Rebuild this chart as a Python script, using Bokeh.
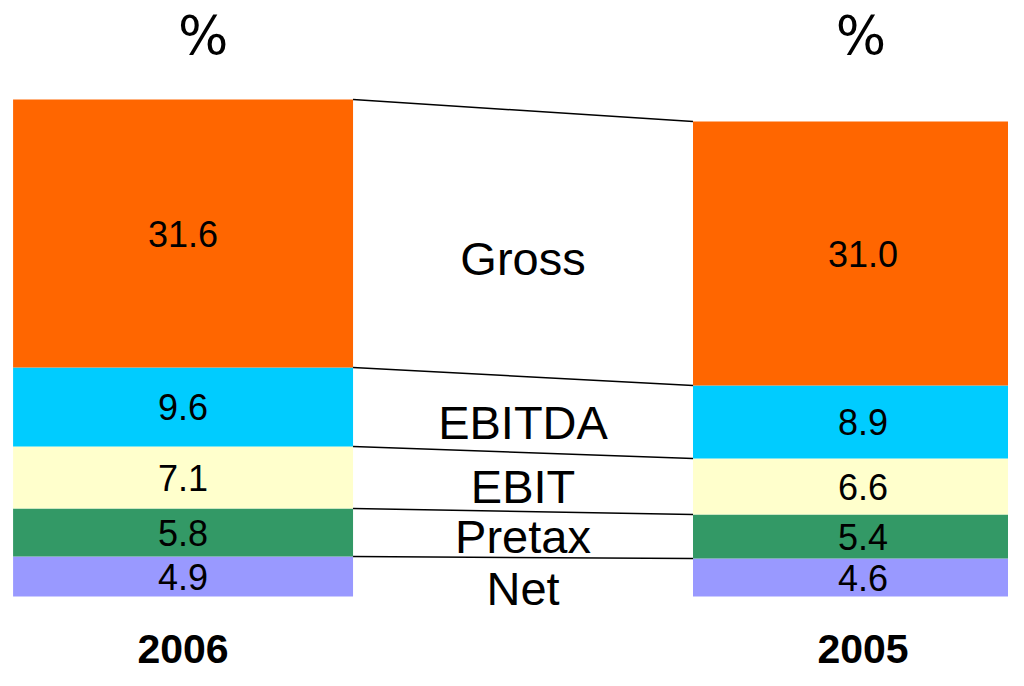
from bokeh.plotting import figure
from bokeh.models import ColumnDataSource, Range1d
from bokeh.embed import file_html
from bokeh.resources import INLINE
from bokeh.core.properties import value

# ---- data -------------------------------------------------------------
years = ["2006", "2005"]
measures = ["Net", "Pretax", "EBIT", "EBITDA", "Gross"]
margins_2006 = [4.9, 5.8, 7.1, 9.6, 31.6]
margins_2005 = [4.6, 5.4, 6.6, 8.9, 31.0]
# top edge of each band as drawn in the picture (chart units above the base)
drawn_top_2006 = [40, 88, 150, 229, 497]
drawn_top_2005 = [38, 82, 138, 211, 475]
colors = ["#9999FF", "#339966", "#FFFFCC", "#00CCFF", "#FF6600"]

# ---- figure -----------------------------------------------------------
p = figure(width=1008, height=670, x_range=Range1d(-0.537, 2.428),
           y_range=Range1d(-74, 596), output_backend="svg",
           toolbar_location=None, min_border=0)
p.outline_line_color = None
p.axis.visible = False
p.grid.visible = False
p.background_fill_color = "white"

year_x = [0, 2]
series = [(margins_2006, drawn_top_2006), (margins_2005, drawn_top_2005)]

for xi, (vals, tops) in zip(year_x, series):
    bottoms = [0] + tops[:-1]
    src = ColumnDataSource(dict(
        x=[xi] * len(vals), top=tops, bottom=bottoms, color=colors,
        mid=[(a + b) / 2 for a, b in zip(tops, bottoms)],
        label=[f"{v:.1f}" for v in vals]))
    p.vbar(x="x", width=1.0, bottom="bottom", top="top", fill_color="color",
           line_color=None, source=src)
    p.text(x="x", y="mid", text="label", source=src,
           text_font=value("Liberation Sans"), text_font_size="36px",
           text_align="center", text_baseline="middle", text_color="black")

# connector lines between the band edges
p.segment(x0=[0.5] * len(measures), y0=drawn_top_2006,
          x1=[1.5] * len(measures), y1=drawn_top_2005,
          line_color="black", line_width=1.5)

# measure names in the middle
bot05 = [0] + drawn_top_2005[:-1]
mid05 = [(a + b) / 2 for a, b in zip(drawn_top_2005, bot05)]
name_offsets = [11, 0, 0, 0, 5]
p.text(x=[1] * len(measures), y=mid05, text=measures, y_offset=name_offsets,
       text_font=value("Liberation Sans"), text_font_size="47px",
       text_align="center", text_baseline="middle", text_color="black")

# "%" headers and year labels
p.text(x=year_x, y=[561, 561], text=["%", "%"], x_offset=[20, -2],
       text_font=value("DejaVu Sans"), text_font_size="53px",
       text_align="center", text_baseline="middle", text_color="black")
p.text(x=year_x, y=[-52, -52], text=years,
       text_font=value("Liberation Sans"), text_font_style="bold",
       text_font_size="41px", text_align="center", text_baseline="middle",
       text_color="black")

open("out.html", "w").write(file_html(p, INLINE))
